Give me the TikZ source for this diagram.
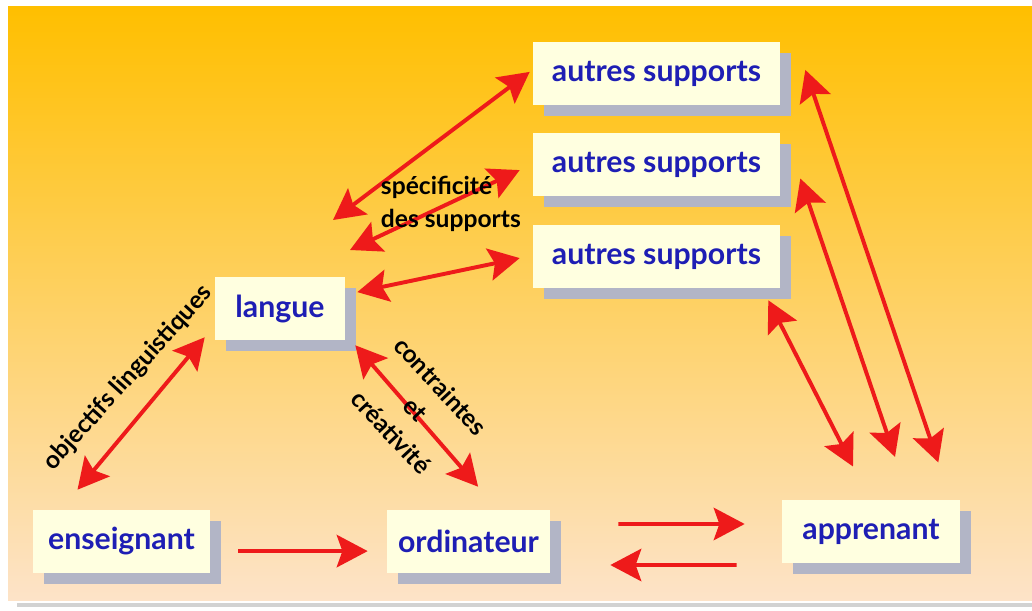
\documentclass[tikz,border=0pt]{standalone}
\usepackage{fontspec}
\setmainfont{Lato}
\usetikzlibrary{arrows.meta,shadows}

\definecolor{bgtop}{HTML}{FFBF00}
\definecolor{bgmid}{HTML}{FDD27A}
\definecolor{bgbot}{HTML}{FDE3C8}
\definecolor{boxfill}{HTML}{FFFFE0}
\definecolor{boxtext}{HTML}{1E1EB4}
\definecolor{shadowgrey}{HTML}{B2B5C6}
\definecolor{arrowred}{HTML}{EE1A1A}

\tikzset{
  box/.style={fill=boxfill, text=boxtext, inner sep=0pt, minimum height=1.575cm,
    font=\fontsize{21.5}{25}\selectfont\bfseries,
    drop shadow={shadow xshift=0.27cm, shadow yshift=-0.27cm, fill=shadowgrey, opacity=1}},
  note/.style={text=black, font=\fontsize{17.5}{24}\selectfont\bfseries},
  bigtip/.tip={Stealth[length=22pt,width=23pt,inset=4pt]},
  link/.style={draw=arrowred, line width=2.8pt, bigtip-bigtip},
  flow/.style={draw=arrowred, line width=2.8pt, -bigtip},
}

\begin{document}
\begin{tikzpicture}[x=0.025cm,y=-0.025cm]
\useasboundingbox (0,0) rectangle (1032,611);
\fill[white] (0,0) rectangle (1032,611);
\shade[top color=bgtop, middle color=bgmid, bottom color=bgbot] (8,7) rectangle (1032,600);
\fill[gray!35] (17,603) rectangle (1032,607);

% supports
\node[box, minimum width=6.175cm] (s1) at (656.5,73.5) {autres supports};
\node[box, minimum width=6.175cm] (s2) at (656.5,164.5) {autres supports};
\node[box, minimum width=6.175cm] (s3) at (656.5,256.5) {autres supports};

\node[box, minimum width=3.25cm] (langue) at (280,308.5) {langue};
\node[box, minimum width=4.425cm] (ens) at (121.5,541.5) {enseignant};
\node[box, minimum width=4.075cm] (ordi) at (468.5,541.5) {ordinateur};
\node[box, minimum width=4.45cm] (app) at (871,531.5) {apprenant};

\coordinate (sp1) at (333,220);
\coordinate (sp2) at (350,250);

% liens
\draw[link] ([xshift=-0.075cm,yshift=0.04cm]s1.west) -- (sp1);
\draw[link] ([xshift=-0.325cm,yshift=-0.14cm]s2.west) -- (sp2);
\draw[link] ([xshift=0.3cm,yshift=0.41cm]langue.east) -- ([xshift=-0.325cm,yshift=-0.04cm]s3.west);
\draw[link] ([xshift=-0.25cm,yshift=0.075cm]langue.south west) -- ([xshift=-1.1cm,yshift=0.5cm]ens.north);
\draw[link] ([xshift=0.25cm,yshift=-0.125cm]langue.south east) -- ([xshift=0.24cm,yshift=0.575cm]ordi.north);

\draw[flow] ([xshift=0.7cm,yshift=-0.24cm]ens.east) -- ([xshift=-0.475cm,yshift=-0.24cm]ordi.west);
\draw[flow] ([xshift=1.7cm,yshift=0.4375cm]ordi.east) -- ([xshift=-0.925cm,yshift=0.1875cm]app.west);
\draw[flow] ([xshift=-1.125cm,yshift=-0.8375cm]app.west) -- ([xshift=1.5cm,yshift=-0.5875cm]ordi.east);

\draw[link] ([xshift=-0.3cm,yshift=-0.3cm]s3.south east) -- ([xshift=-0.45cm,yshift=0.83cm]app.north);
\draw[link] ([xshift=0.5cm,yshift=-0.35cm]s2.east) -- ([xshift=0.6cm,yshift=1.07cm]app.north);
\draw[link] ([xshift=0.625cm,yshift=0.09cm]s1.east) -- ([xshift=-0.55cm,yshift=0.93cm]app.north east);

% etiquettes
\node[note, align=left, anchor=west] (spec) at (376,204) {spécificité\\des supports};
\node[note, rotate=48] (obj) at (128,378) {objectifs linguistiques};
\node[note, align=center, rotate=-47] (contr) at (416,409) {contraintes\\et\\créativité};
\end{tikzpicture}
\end{document}
